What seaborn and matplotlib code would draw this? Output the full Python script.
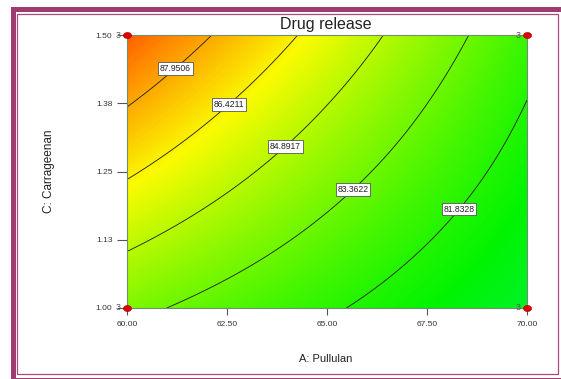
import numpy as np
import matplotlib
matplotlib.use("Agg")
import matplotlib.pyplot as plt
import seaborn as sns
from matplotlib.colors import ListedColormap, hsv_to_rgb
from matplotlib.patches import Rectangle
from matplotlib.path import Path
from matplotlib.tri import Triangulation, UniformTriRefiner, CubicTriInterpolator

# ---- data -------------------------------------------------------------
# factor levels (grid nodes / ticks)
pullulan = [60.0, 62.5, 65.0, 67.5, 70.0]
carrageenan = [1.00, 1.125, 1.25, 1.375, 1.50]
x_tick_labels = ["60.00", "62.50", "65.00", "67.50", "70.00"]
y_tick_labels = ["1.00", "1.13", "1.25", "1.38", "1.50"]

# drug release (%) estimated at the grid nodes (one list per carrageenan level)
release_c100 = [83.70, 82.85, 82.00, 81.14, 80.29]
release_c113 = [85.14, 84.06, 82.97, 81.88, 80.80]
release_c125 = [86.59, 85.27, 83.95, 82.63, 81.31]
release_c138 = [88.03, 86.47, 84.92, 83.37, 81.81]
release_c150 = [89.47, 87.68, 85.90, 84.11, 82.32]

contour_levels = [81.8328, 83.3622, 84.8917, 86.4211, 87.9506]

# design points (corners, 3 replicates each)
design_a = [60.0, 60.0, 70.0, 70.0]
design_c = [1.00, 1.50, 1.00, 1.50]
design_reps = [3, 3, 3, 3]

# ---- style ------------------------------------------------------------
sns.set_style("white")
plt.rcParams["font.family"] = ["Liberation Sans", "DejaVu Sans"]

W, H = 561, 379
fig = plt.figure(figsize=(W / 100, H / 100), dpi=100)


def fx(px):
    return px / W


def fy(py):
    return 1 - py / H


ax = fig.add_axes([fx(127), fy(308), fx(527) - fx(127), fy(35) - fy(308)])

Z = np.array([release_c100, release_c113, release_c125, release_c138, release_c150])
A, C = np.meshgrid(pullulan, carrageenan)
tri = Triangulation(A.ravel(), C.ravel())
interp = CubicTriInterpolator(tri, Z.ravel(), kind="min_E")
tri_f, z_f = UniformTriRefiner(tri).refine_field(Z.ravel(), triinterpolator=interp, subdiv=4)

hues = np.linspace(130, 22, 256) / 360.0
vals = np.linspace(0.95, 1.0, 256)
cmap = ListedColormap(hsv_to_rgb(np.stack([hues, np.ones(256), vals], axis=1)))

ax.tricontourf(tri_f, z_f, levels=np.linspace(Z.min() - 0.05, Z.max() + 0.05, 200),
               cmap=cmap, antialiased=False)
cs = ax.tricontour(tri_f, z_f, levels=contour_levels,
                   colors="#1a1a1a", linewidths=0.6)

label_positions = [(61.2, 1.44), (62.58, 1.37), (64.05, 1.289),
                   (65.58, 1.222), (68.35, 1.178)]
labels = ax.clabel(cs, fmt="%.4f", fontsize=6.2, inline=False, manual=label_positions)
for t in labels:
    t.set_rotation(0)
    t.set_color("#222222")
    t.set_bbox(dict(boxstyle="square,pad=0.2", fc="white", ec="#555555", lw=0.6))

ax.set_xlim(60, 70)
ax.set_ylim(1.0, 1.5)
ax.set_xticks(pullulan)
ax.set_xticklabels(x_tick_labels)
ax.set_yticks(carrageenan)
ax.set_yticklabels(y_tick_labels)
ax.tick_params(axis="x", direction="out", length=5, width=0.8, color="#555555",
               labelsize=6, labelcolor="#333333", pad=4, bottom=True)
ax.tick_params(axis="y", direction="out", length=7, width=0.8, color="#555555",
               labelsize=6, labelcolor="#333333", pad=3.5, left=True)
for sp in ax.spines.values():
    sp.set_visible(True)
    sp.set_color("#6f8f6f")
    sp.set_linewidth(0.8)

# design points
t = np.linspace(0, 2 * np.pi, 40)
ellipse = Path(np.column_stack([np.cos(t), 0.75 * np.sin(t)]))
sns.scatterplot(x=design_a, y=design_c, ax=ax, marker=ellipse, s=34,
                color="#e00000", edgecolor="#a00000", linewidth=0.4,
                clip_on=False, zorder=6, legend=False)
for a, c, r in zip(design_a, design_c, design_reps):
    ax.annotate(str(r), (a, c), xytext=(-6.3, 0), textcoords="offset points",
                ha="center", va="center", fontsize=6.5, color="#555555",
                annotation_clip=False, zorder=7)

# texts
fig.text(fx(326), fy(24), "Drug release", ha="center", va="center",
         fontsize=11.5, color="#222222")
fig.text(fx(326), fy(359), "A: Pullulan", ha="center", va="center",
         fontsize=8, color="#222222")
fig.text(fx(49), fy(171), "C: Carrageenan", ha="center", va="center",
         rotation=90, fontsize=8.5, color="#222222")

# frame
fig.add_artist(Rectangle((fx(12.5), fy(380)), fx(564) - fx(12.5), fy(8.5) - fy(380),
                         transform=fig.transFigure, fill=False, ec="#9e3b70", lw=3.6))
fig.add_artist(Rectangle((fx(17), fy(373.8)), fx(557.5) - fx(17), fy(13.5) - fy(373.8),
                         transform=fig.transFigure, fill=False, ec="#a84a7e", lw=0.9))

fig.savefig("out.png", dpi=100)
